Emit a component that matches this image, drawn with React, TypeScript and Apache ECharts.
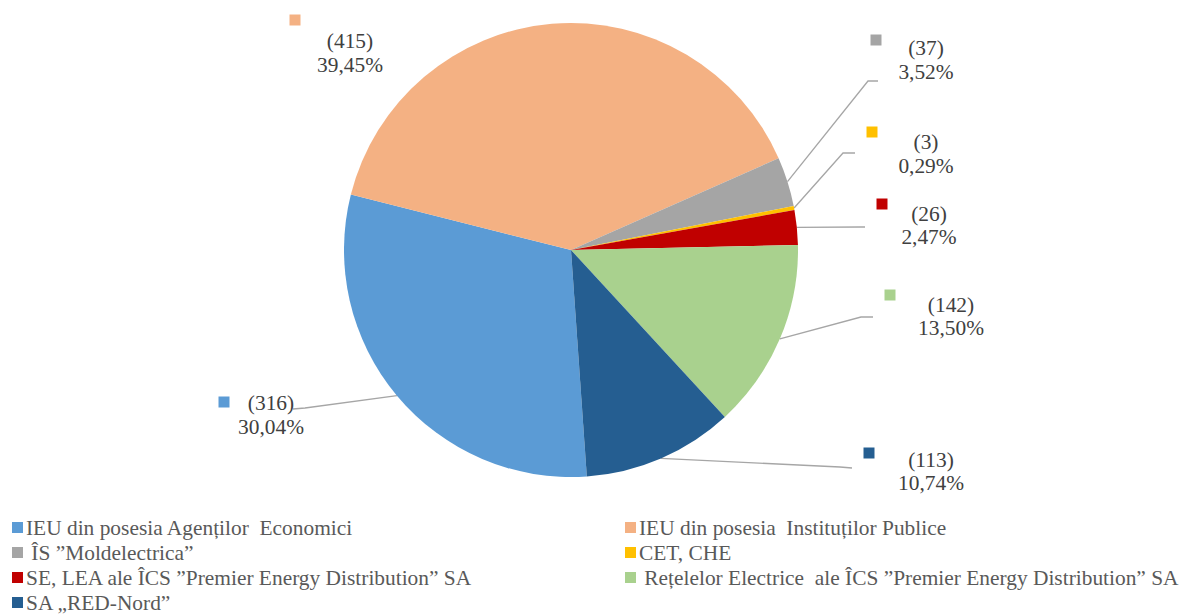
import React, { useEffect, useRef } from "react";
import * as echarts from "echarts";

const categories = [
  "IEU din posesia Agenților  Economici",
  "IEU din posesia  Instituților Publice",
  " ÎS ”Moldelectrica”",
  "CET, CHE",
  "SE, LEA ale ÎCS ”Premier Energy Distribution” SA",
  " Rețelelor Electrice  ale ÎCS ”Premier Energy Distribution” SA",
  "SA „RED-Nord”",
];
const values = [316, 415, 37, 3, 26, 142, 113];
const colors = ["#5B9BD5", "#F4B183", "#A5A5A5", "#FFC000", "#C00000", "#A9D18E", "#255E91"];

// layout (pixels)
const CX = 571;
const CY = 250;
const R = 227;
const START = -86;
const labelPos = [
  [271, 415],
  [350, 53],
  [926, 60],
  [926, 154],
  [929, 225.5],
  [951, 316.5],
  [931, 471.5],
];
const keyPos = [
  [224, 402],
  [295, 20],
  [876, 40],
  [872, 132],
  [882, 204],
  [890, 295],
  [869, 453],
];
const linePts: (number[][] | null)[] = [
  [[305, 408], [293, 409]],
  null,
  [[868, 81], [878, 81]],
  [[843, 153], [855, 153]],
  [[860, 227], [865, 227]],
  [[861, 317], [873, 317]],
  [[840, 467], [852, 468]],
];

const FONT = "Liberation Serif";

export default function App() {
  const ref = useRef<HTMLDivElement>(null);
  useEffect(() => {
    if (!ref.current) return;
    const chart = echarts.init(ref.current, null, { renderer: "svg" });
    const total = values.reduce((a, b) => a + b, 0);
    const edgePoint = (i: number) => {
      let cum = 0;
      for (let k = 0; k < i; k++) cum += values[k];
      const ang = ((START - ((cum + values[i] / 2) / total) * 360) * Math.PI) / 180;
      return [CX + R * Math.cos(ang), CY - R * Math.sin(ang)];
    };
    const mainData = categories.map((name, i) => ({
      name,
      value: values[i],
      itemStyle: { color: colors[i] },
      labelLine: { show: linePts[i] != null },
    }));
    const keyData = categories.map((name, i) => ({
      name,
      value: values[i],
      label: { rich: { s: { width: 11, height: 11, backgroundColor: colors[i] } } },
    }));
    const legendNames0 = categories.filter((_, i) => i % 2 === 0);
    const legendNames1 = categories.filter((_, i) => i % 2 === 1);
    const legendCommon = {
      orient: "vertical",
      top: 517,
      padding: 0,
      itemWidth: 11,
      itemHeight: 11,
      itemGap: 4,
      icon: "rect",
      selectedMode: false,
      textStyle: {
        fontFamily: FONT,
        fontSize: 21.4,
        color: "#595959",
        lineHeight: 21,
        padding: [0, 0, 0, -2],
      },
    };
    chart.setOption({
      animation: false,
      backgroundColor: "#ffffff",
      textStyle: { fontFamily: FONT },
      legend: [
        { ...legendCommon, left: 12, data: legendNames0 },
        { ...legendCommon, left: 625, data: legendNames1 },
      ],
      series: [
        {
          type: "pie",
          center: [CX, CY],
          radius: R,
          startAngle: START,
          clockwise: true,
          avoidLabelOverlap: false,
          data: mainData,
          itemStyle: { borderWidth: 0 },
          label: {
            show: true,
            position: "outside",
            fontFamily: FONT,
            fontSize: 21.4,
            lineHeight: 23.5,
            color: "#404040",
            align: "center",
            formatter: (p: any) =>
              `(${p.value})\n${((p.value / total) * 100).toFixed(2).replace(".", ",")}%`,
          },
          labelLine: { show: true, lineStyle: { color: "#A6A6A6", width: 1.3 } },
          labelLayout: (p: any) => {
            const i = p.dataIndex;
            const res: any = {
              x: labelPos[i][0],
              y: labelPos[i][1],
              align: "center",
              verticalAlign: "middle",
            };
            if (linePts[i]) {
              res.labelLinePoints = [edgePoint(i), ...(linePts[i] as number[][])];
            }
            return res;
          },
          emphasis: { disabled: true },
        },
        {
          type: "pie",
          center: [CX, CY],
          radius: R,
          startAngle: START,
          clockwise: true,
          silent: true,
          avoidLabelOverlap: false,
          data: keyData,
          itemStyle: { color: "rgba(0,0,0,0)", borderWidth: 0 },
          label: { show: true, position: "outside", formatter: "{s|}" },
          labelLine: { show: false },
          labelLayout: (p: any) => ({
            x: keyPos[p.dataIndex][0],
            y: keyPos[p.dataIndex][1],
            align: "center",
            verticalAlign: "middle",
          }),
          emphasis: { disabled: true },
        },
      ],
    });
    return () => chart.dispose();
  }, []);
  return (
    <div
      ref={ref}
      style={{ position: "absolute", left: 0, top: 0, width: 1185, height: 614 }}
    />
  );
}
